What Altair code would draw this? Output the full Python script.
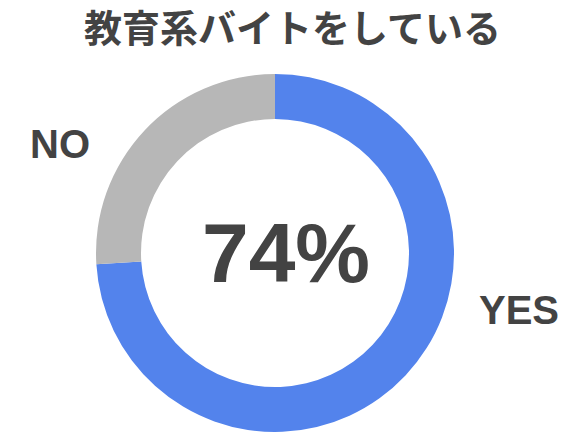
import altair as alt
import pandas as pd

# values
answers = ["YES", "NO"]
shares = [74, 26]
colors = ["#5383EC", "#B7B7B7"]
title_text = "教育系バイトをしている"
center_text = "74%"

df = pd.DataFrame({"answer": answers, "share": shares, "order": [0, 1]})

TEXT = "#434343"
LATIN = "Liberation Sans"
CJK = "Noto Sans CJK JP"

# donut centred at page (275, 253); view starts at page (8, 8)
donut = alt.Chart(df).mark_arc(radius=179, radius2=134, stroke=None).encode(
    theta=alt.Theta("share:Q").stack(True),
    order=alt.Order("order:Q"),
    color=alt.Color("answer:N").scale(domain=answers, range=colors).legend(None),
    x=alt.value(267),
    y=alt.value(245),
)

def label(text, x, y, size, font=LATIN, baseline="alphabetic"):
    return alt.Chart(pd.DataFrame({"t": [text]})).mark_text(
        font=font, fontSize=size, fontWeight="bold", color=TEXT,
        align="center", baseline=baseline,
    ).encode(text="t:N", x=alt.value(x), y=alt.value(y))

chart = alt.layer(
    donut,
    label(title_text, 284.5, 23, 38, font=CJK, baseline="middle"),
    label(center_text, 278, 274, 84),
    label(answers[1], 52, 150, 40),
    label(answers[0], 511, 316, 40),
).properties(
    width=565,
    height=430,
    autosize=alt.AutoSizeParams(type="none"),
    padding=0,
).configure_view(stroke=None)

chart.save("out.html", embed_options={"renderer": "svg", "actions": False})
